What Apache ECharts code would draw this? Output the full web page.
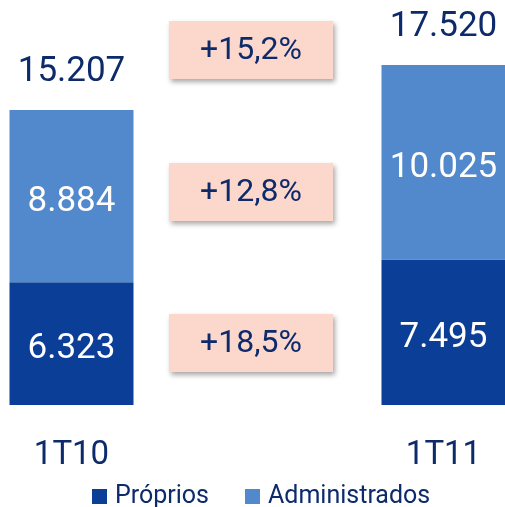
<!DOCTYPE html>
<html>
<head>
<meta charset="utf-8">
<script src="https://cdn.jsdelivr.net/npm/echarts@6/dist/echarts.min.js"></script>
<style>
  html, body { margin: 0; padding: 0; background: #fff; }
  #chart { width: 505px; height: 507px; }
</style>
</head>
<body>
<div id="chart"></div>
<script>
const categories = ["1T10", "1T11"];
const proprios = [6323, 7495];
const administrados = [8884, 10025];
const totals = [15207, 17520];
const growthLabels = ["+15,2%", "+12,8%", "+18,5%"];

const navy = "#0d2a6b";
const fmt = (v) => String(v).replace(/\B(?=(\d{3})+(?!\d))/g, ".");

// caixas de crescimento
const boxTops = [21, 163, 314];
const boxes = growthLabels.map((t, i) => ({
  type: "group",
  left: 169,
  top: boxTops[i],
  children: [
    {
      type: "rect",
      shape: { x: 0, y: 0, width: 164, height: 58 },
      style: {
        fill: "#fbd7cc",
        shadowBlur: 5,
        shadowOffsetX: 2,
        shadowOffsetY: 3,
        shadowColor: "rgba(0,0,0,0.35)",
      },
    },
    {
      type: "text",
      x: 82,
      y: 30,
      style: {
        text: t,
        fill: navy,
        font: "32px Roboto",
        textAlign: "center",
        textVerticalAlign: "middle",
      },
    },
  ],
}));

const barLabel = {
  show: true,
  position: "inside",
  offset: [0, 6],
  color: "#fff",
  fontSize: 35,
  fontFamily: "Roboto",
  formatter: (p) => fmt(p.value),
};

const option = {
  animation: false,
  grid: { left: 71.5, right: 61.5, top: 17, bottom: 102 },
  xAxis: {
    type: "category",
    data: categories,
    boundaryGap: false,
    axisLine: { show: false },
    axisTick: { show: false },
    axisLabel: { color: navy, fontSize: 33, fontFamily: "Roboto", margin: 34 },
  },
  yAxis: { type: "value", min: 0, max: 20000, show: false },
  legend: {
    top: 479,
    left: 87,
    itemWidth: 15,
    itemHeight: 15,
    itemGap: 36,
    icon: "rect",
    textStyle: { color: navy, fontSize: 25, fontFamily: "Roboto", padding: [0, 0, 0, 3] },
    data: ["Próprios", "Administrados"],
  },
  series: [
    {
      name: "Próprios",
      type: "bar",
      stack: "t",
      barWidth: 124,
      data: proprios,
      itemStyle: { color: "#0b3f97" },
      label: barLabel,
    },
    {
      name: "Administrados",
      type: "bar",
      stack: "t",
      barWidth: 124,
      data: administrados,
      itemStyle: { color: "#5288cc" },
      label: barLabel,
    },
    {
      name: "Total",
      type: "bar",
      stack: "t",
      barWidth: 124,
      data: [0, 0],
      itemStyle: { color: "transparent" },
      label: {
        show: true,
        position: "top",
        distance: 20,
        color: navy,
        fontSize: 35,
        fontFamily: "Roboto",
        formatter: (p) => fmt(totals[p.dataIndex]),
      },
    },
  ],
  graphic: boxes,
};

echarts.init(document.getElementById("chart")).setOption(option);
</script>
</body>
</html>
